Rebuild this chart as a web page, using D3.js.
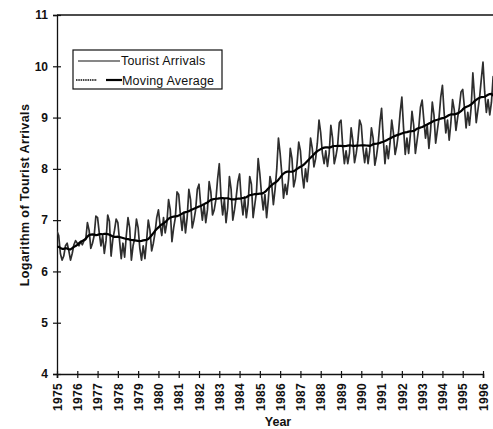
<!DOCTYPE html>
<html>
<head>
<meta charset="utf-8">
<script src="https://cdn.jsdelivr.net/npm/d3@7"></script>
<style>
  html, body { margin: 0; padding: 0; background: #fff; }
  svg { display: block; }
  text { font-family: "Liberation Sans", Arial, sans-serif; fill: #111; }
</style>
</head>
<body>
<svg id="chart" width="493" height="429"></svg>
<script>
// ---- data (monthly logarithm of tourist arrivals) ----
const years = [1975,1976,1977,1978,1979,1980,1981,1982,1983,1984,1985,1986,1987,1988,1989,1990,1991,1992,1993,1994,1995,1996];
const arrivals1975 = [6.78,6.70,6.35,6.22,6.30,6.50,6.55,6.40,6.22,6.35,6.52,6.60];
const arrivals1976 = [6.55,6.50,6.58,6.52,6.60,6.62,6.95,6.80,6.45,6.55,6.70,7.08];
const arrivals1977 = [7.05,6.75,6.50,6.70,6.35,6.60,7.10,6.98,6.30,6.62,6.80,7.02];
const arrivals1978 = [6.95,6.60,6.25,6.55,6.28,6.70,7.05,6.85,6.22,6.50,6.65,7.02];
const arrivals1979 = [6.85,6.45,6.22,6.50,6.25,6.60,7.00,6.80,6.40,6.55,6.75,7.05];
const arrivals1980 = [7.20,6.90,6.70,7.05,6.75,6.95,7.40,7.20,6.58,6.85,7.05,7.55];
const arrivals1981 = [7.50,7.10,6.80,7.15,6.75,7.05,7.60,7.40,6.85,7.00,7.20,7.60];
const arrivals1982 = [7.70,7.30,7.00,7.30,6.95,7.20,7.75,7.55,7.10,7.20,7.40,7.80];
const arrivals1983 = [8.10,7.45,7.10,7.40,6.95,7.25,7.85,7.60,7.00,7.20,7.45,7.75];
const arrivals1984 = [7.90,7.40,7.10,7.45,7.05,7.30,7.85,7.70,7.05,7.30,7.55,8.20];
const arrivals1985 = [7.90,7.50,7.20,7.50,7.05,7.40,7.85,7.70,7.30,7.60,8.00,8.60];
const arrivals1986 = [8.30,7.90,7.43,7.70,7.50,7.80,8.40,8.20,7.65,7.80,8.10,8.52];
const arrivals1987 = [8.35,7.90,7.63,8.00,7.75,8.10,8.60,8.40,8.04,8.20,8.50,8.95];
const arrivals1988 = [8.70,8.30,8.10,8.35,8.05,8.30,8.85,8.60,8.10,8.25,8.45,8.90];
const arrivals1989 = [8.95,8.45,8.10,8.35,8.10,8.30,8.80,8.55,8.12,8.30,8.55,8.95];
const arrivals1990 = [8.85,8.40,8.12,8.40,8.10,8.35,8.80,8.60,8.07,8.25,8.50,8.90];
const arrivals1991 = [9.18,8.60,8.10,8.45,8.20,8.50,8.95,8.70,8.28,8.45,8.70,9.10];
const arrivals1992 = [9.40,8.80,8.28,8.60,8.30,8.65,9.12,8.85,8.30,8.55,8.80,9.20];
const arrivals1993 = [9.34,8.95,8.60,8.85,8.40,8.75,9.30,9.05,8.50,8.75,9.00,9.40];
const arrivals1994 = [9.63,9.10,8.70,8.95,8.56,8.90,9.35,9.15,8.75,9.00,9.20,9.50];
const arrivals1995 = [9.55,9.20,8.80,9.10,8.85,9.20,9.87,9.40,8.90,9.15,9.40,9.75];
const arrivals1996 = [10.08,9.50,9.10,9.35,9.05,9.30,9.80,9.60,9.15,9.35,9.55,9.70];
const arrivalsByYear = [arrivals1975,arrivals1976,arrivals1977,arrivals1978,arrivals1979,arrivals1980,
  arrivals1981,arrivals1982,arrivals1983,arrivals1984,arrivals1985,arrivals1986,arrivals1987,arrivals1988,
  arrivals1989,arrivals1990,arrivals1991,arrivals1992,arrivals1993,arrivals1994,arrivals1995,arrivals1996];
const yTicks = [4,5,6,7,8,9,10,11];
const xTickLabels = years.map(String);
const seriesNames = ["Tourist Arrivals","Moving Average"];
const xLabel = "Year";
const yLabel = "Logarithm of Tourist Arrivals";

// ---- build series ----
const points = [];
years.forEach((yr, i) => arrivalsByYear[i].forEach((v, m) => points.push({t: yr + m / 12, v})));
// 12-month centred moving average of the arrivals series
const ma = points.map((p, i) => {
  const lo = Math.max(0, i - 6), hi = Math.min(points.length - 1, i + 6);
  let s = 0, w = 0;
  for (let j = lo; j <= hi; j++) {
    const wt = (j === i - 6 || j === i + 6) ? 0.5 : 1;
    s += points[j].v * wt; w += wt;
  }
  return {t: p.t, v: s / w};
});

// ---- layout ----
const svg = d3.select("#chart");
const L = 57, T = 15, B = 374;
const x = d3.scaleLinear().domain([1975, 1996]).range([L, 483]);
const y = d3.scaleLinear().domain([4, 11]).range([B, T]);

svg.append("defs").append("clipPath").attr("id", "clip")
  .append("rect").attr("x", L).attr("y", T).attr("width", 493 - L).attr("height", B - T);

// top frame line
svg.append("line").attr("x1", L).attr("x2", 493).attr("y1", T).attr("y2", T)
  .attr("stroke", "#111").attr("stroke-width", 1.3);

// y axis
const yAxis = svg.append("g").attr("transform", `translate(${L},0)`)
  .call(d3.axisLeft(y).tickValues(yTicks).tickSize(4).tickPadding(6).tickFormat(d3.format("d")));
yAxis.select(".domain").attr("stroke", "#111").attr("stroke-width", 1.3);
yAxis.selectAll(".tick line").attr("x2", 4).attr("x1", -4).attr("stroke", "#111").attr("stroke-width", 1.2);
yAxis.selectAll(".tick text").attr("x", -9).style("font-size", "12px").style("font-weight", "bold").attr("fill", "#111");

// x axis
const xAxis = svg.append("g").attr("transform", `translate(0,${B})`)
  .call(d3.axisBottom(x).tickValues(years).tickSize(4).tickFormat((d, i) => xTickLabels[i]));
xAxis.select(".domain").attr("stroke", "#111").attr("stroke-width", 1.6);
xAxis.selectAll(".tick line").attr("y1", -3).attr("y2", 4).attr("stroke", "#111").attr("stroke-width", 1.2);
xAxis.selectAll(".tick text")
  .attr("transform", "rotate(-90)")
  .attr("x", -9).attr("y", 0).attr("dy", "0.35em")
  .attr("text-anchor", "end")
  .style("font-size", "12px").style("font-weight", "bold").style("letter-spacing", "0.3px").attr("fill", "#111");

// axis titles
svg.append("text").attr("x", 278).attr("y", 426).attr("text-anchor", "middle")
  .style("font-size", "12.5px").style("font-weight", "bold").text(xLabel);
svg.append("text").attr("transform", "translate(29,195) rotate(-90)").attr("text-anchor", "middle")
  .style("font-size", "12.5px").style("font-weight", "bold").style("letter-spacing", "0.4px").text(yLabel);

// lines
const line = d3.line().x(d => x(d.t)).y(d => y(d.v));
const plot = svg.append("g").attr("clip-path", "url(#clip)");
plot.append("path").datum(points).attr("d", line)
  .attr("fill", "none").attr("stroke", "#2e2e2e").attr("stroke-width", 1.7).attr("stroke-linejoin", "round");
plot.append("path").datum(ma).attr("d", line)
  .attr("fill", "none").attr("stroke", "#000").attr("stroke-width", 2.2).attr("stroke-linejoin", "round");

// legend
const lg = svg.append("g");
lg.append("rect").attr("x", 73).attr("y", 50).attr("width", 149).attr("height", 39)
  .attr("fill", "#fff").attr("stroke", "#111").attr("stroke-width", 1.2);
lg.append("line").attr("x1", 78).attr("x2", 120).attr("y1", 61).attr("y2", 61)
  .attr("stroke", "#111").attr("stroke-width", 1.2);
lg.append("line").attr("x1", 76).attr("x2", 97).attr("y1", 80).attr("y2", 80)
  .attr("stroke", "#444").attr("stroke-width", 1.8).attr("stroke-dasharray", "1.5,0.8");
lg.append("line").attr("x1", 106).attr("x2", 122).attr("y1", 80).attr("y2", 80)
  .attr("stroke", "#000").attr("stroke-width", 2.2);
lg.append("text").attr("x", 121).attr("y", 65).style("font-size", "12.5px").style("letter-spacing", "0.2px").text(seriesNames[0]);
lg.append("text").attr("x", 122).attr("y", 84.5).style("font-size", "12.5px").style("letter-spacing", "0.2px").text(seriesNames[1]);
</script>
</body>
</html>
